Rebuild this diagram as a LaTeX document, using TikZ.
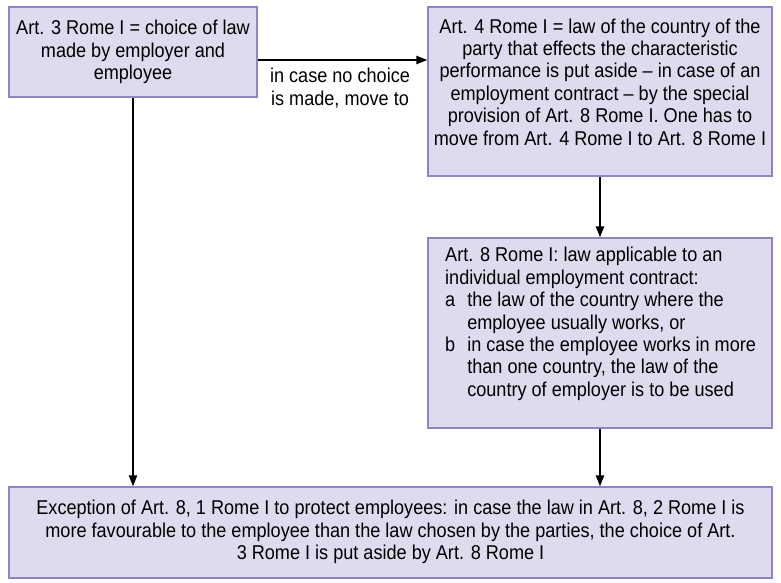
\documentclass[tikz,border=0pt]{standalone}
\usepackage{fontspec}
\setmainfont{Liberation Sans}[FakeStretch=0.905]
\usetikzlibrary{arrows.meta}
\definecolor{boxfill}{HTML}{DEDBEE}
\definecolor{boxline}{HTML}{8C86C6}
\tikzset{
  box/.style={draw=boxline, fill=boxfill, line width=1.2pt, inner sep=0pt},
  txt/.style={inner sep=0pt, font=\fontsize{20}{22.4}\selectfont},
  flow/.style={line width=2pt, -{Triangle[length=11pt,width=8pt]}}
}
\begin{document}
\begin{tikzpicture}[x=1pt,y=-1pt]
\useasboundingbox (0,0) rectangle (781,583);
% boxes
\node[box, minimum width=248pt, minimum height=90pt] (b1) at (133,52) {};
\node[box, minimum width=344pt, minimum height=169pt] (b2) at (600,91.5) {};
\node[box, minimum width=344pt, minimum height=190pt] (b3) at (600,333) {};
\node[box, minimum width=763pt, minimum height=91pt] (b4) at (390.5,532.5) {};
% texts
\node[txt, align=center] (t1) at (133,52) {Art. 3 Rome I = choice of law\\made by employer and\\employee};
\node[txt, align=center] (t2) at (600,82) {Art. 4 Rome I = law of the country of the\\party that effects the characteristic\\performance is put aside -- in case of an\\employment contract -- by the special\\provision of Art. 8 Rome I. One has to\\move from Art. 4 Rome I to Art. 8 Rome I};
\node[txt, anchor=north west] (t3) at (445,246) {\begin{tabular}{@{}l@{\hspace{12pt}}l@{}}
\multicolumn{2}{@{}l@{}}{Art. 8 Rome I: law applicable to an}\\
\multicolumn{2}{@{}l@{}}{individual employment contract:}\\
a & the law of the country where the\\
  & employee usually works, or\\
b & in case the employee works in more\\
  & than one country, the law of the\\
  & country of employer is to be used
\end{tabular}};
\node[txt, align=center] (t4) at (390.5,532) {Exception of Art. 8, 1 Rome I to protect employees: in case the law in Art. 8, 2 Rome I is\\more favourable to the employee than the law chosen by the parties, the choice of Art.\\3 Rome I is put aside by Art. 8 Rome I};
% connectors
\coordinate (h1) at (b1.east |- 0,60);
\coordinate (h2) at (b2.west |- 0,60);
\draw[flow] (h1) -- (h2);
\node[txt, align=center] (lab) at (340,88) {in case no choice\\is made, move to};
\draw[flow] (b2.south) -- (b3.north);
\draw[flow] (b1.south) -- (b1.south |- b4.north);
\draw[flow] (b3.south) -- (b3.south |- b4.north);
\end{tikzpicture}
\end{document}
